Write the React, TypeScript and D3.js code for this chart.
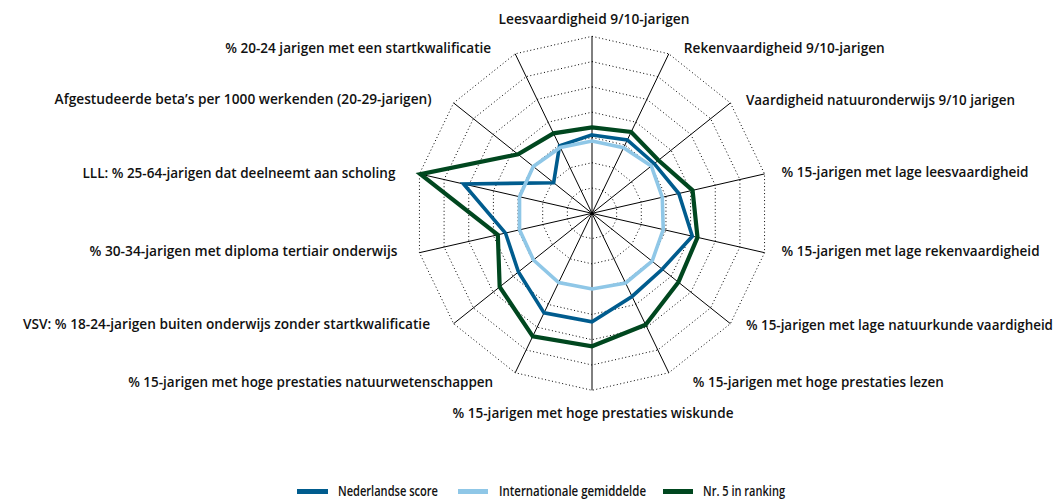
import React from "react";
import * as d3 from "d3";

const categories: string[] = [
  "Leesvaardigheid 9/10-jarigen",
  "Rekenvaardigheid 9/10-jarigen",
  "Vaardigheid natuuronderwijs 9/10 jarigen",
  "% 15-jarigen met lage leesvaardigheid",
  "% 15-jarigen met lage rekenvaardigheid",
  "% 15-jarigen met lage natuurkunde vaardigheid",
  "% 15-jarigen met hoge prestaties lezen",
  "% 15-jarigen met hoge prestaties wiskunde",
  "% 15-jarigen met hoge prestaties natuurwetenschappen",
  "VSV: % 18-24-jarigen buiten onderwijs zonder startkwalificatie",
  "% 30-34-jarigen met diploma tertiair onderwijs",
  "LLL: % 25-64-jarigen dat deelneemt aan scholing",
  "Afgestudeerde beta\u2019s per 1000 werkenden (20-29-jarigen)",
  "% 20-24 jarigen met een startkwalificatie",
];

const nederlandseScore: number[] = [3.1, 3.22, 3.15, 3.52, 4.07, 3.55, 3.65, 4.29, 4.37, 3.72, 3.51, 5.21, 1.94, 2.96];
const internationaalGemiddelde: number[] = [2.86, 2.88, 3.0, 2.85, 2.89, 3.04, 3.06, 2.99, 3.04, 2.96, 2.94, 2.94, 2.97, 2.89];
const nr5InRanking: number[] = [3.4, 3.57, 3.36, 4.08, 4.28, 4.37, 4.89, 5.26, 5.4, 4.67, 3.82, 6.96, 3.74, 3.51];

const seriesNames: string[] = ["Nederlandse score", "Internationale gemiddelde", "Nr. 5 in ranking"];
const gridTicks: number[] = [1, 2, 3, 4, 5, 6, 7];

// layout (not data)
const W = 1056;
const H = 499;
const CX = 592;
const CY = 213.3;
const R = 177;
const colors = ["#005c8e", "#8fc7e7", "#00471f"];
const widths = [3.6, 3.6, 4.2];
const labelDx = [2, 15, 15.6, 17, 17, 15.6, 24, 1, -22, -23.6, -22, -24, -22, -24];
const labelDy = [-17, -6, -3, -2, -1, 2, 10, 23, 10, 1, -1, -1, -4, -6];
const labelLen = [191, 201, 269, 247, 258, 307, 251, 281, 365, 407, 308, 313, 377, 266];

export default function App() {
  const n = categories.length;
  const r = d3.scaleLinear().domain([0, 7]).range([0, R]);
  const angle = (i: number) => (i * 2 * Math.PI) / n;
  const pt = (i: number, v: number): [number, number] => [
    CX + r(v) * Math.sin(angle(i)),
    CY - r(v) * Math.cos(angle(i)),
  ];
  const closed = d3.line().curve(d3.curveLinearClosed);
  const series = [nederlandseScore, internationaalGemiddelde, nr5InRanking];
  const font = "'Open Sans', 'Noto Sans', sans-serif";

  const legendItems = [
    { x0: 297, x1: 328, tx: 338, tl: 100 },
    { x0: 458, x1: 488, tx: 499, tl: 147 },
    { x0: 663, x1: 693, tx: 703, tl: 82 },
  ];

  return (
    <svg
      width={W}
      height={H}
      style={{ position: "absolute", left: 0, top: 0, background: "#fff" }}
      fontFamily={font}
    >
      <rect width={W} height={H} fill="#fff" />
      {gridTicks.map((t) => (
        <path
          key={"g" + t}
          d={closed(d3.range(n).map((i) => pt(i, t))) || ""}
          fill="none"
          stroke="#000"
          strokeWidth={1}
          strokeDasharray="1,2.5"
        />
      ))}
      {d3.range(n).map((i) => {
        const [x, y] = pt(i, 7);
        return <line key={"a" + i} x1={CX} y1={CY} x2={x} y2={y} stroke="#000" strokeWidth={1} />;
      })}
      {series.map((s, k) => (
        <path
          key={"s" + k}
          d={closed(s.map((v, i) => pt(i, v))) || ""}
          fill="none"
          stroke={colors[k]}
          strokeWidth={widths[k]}
          strokeLinejoin="miter"
        />
      ))}
      {categories.map((c, i) => {
        const [x, y] = pt(i, 7);
        const s = Math.sin(angle(i));
        const anchor = Math.abs(s) < 0.01 ? "middle" : s > 0 ? "start" : "end";
        return (
          <text
            key={"l" + i}
            x={x + labelDx[i]}
            y={y + labelDy[i]}
            dy="0.35em"
            textAnchor={anchor}
            fontSize={13.5}
            fontWeight={600}
            fill="#111"
            textLength={labelLen[i]}
            lengthAdjust="spacingAndGlyphs"
          >
            {c}
          </text>
        );
      })}
      {seriesNames.map((name, k) => (
        <g key={"lg" + k}>
          <line
            x1={legendItems[k].x0}
            x2={legendItems[k].x1}
            y1={491.5}
            y2={491.5}
            stroke={colors[k]}
            strokeWidth={5}
          />
          <text
            x={legendItems[k].tx}
            y={491.5}
            dy="0.35em"
            fontSize={13.5}
            fontWeight={600}
            fill="#111"
            textLength={legendItems[k].tl}
            lengthAdjust="spacingAndGlyphs"
          >
            {name}
          </text>
        </g>
      ))}
    </svg>
  );
}
